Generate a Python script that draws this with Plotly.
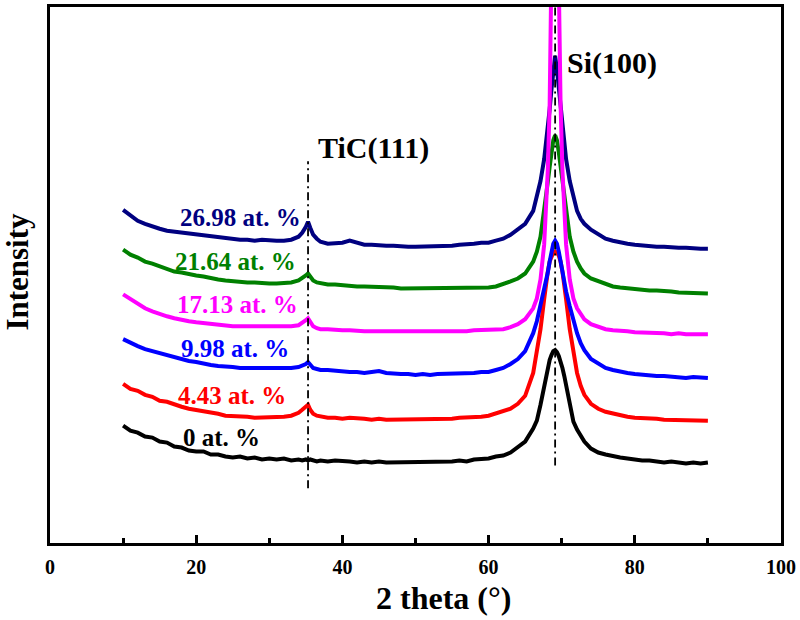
import plotly.graph_objects as go

# 2-theta grid (degrees)
two_theta = [10, 11, 12, 13, 14, 15, 16, 17, 18, 19, 20, 21, 22, 23, 24, 25, 26, 27, 28, 29,
             30, 31, 32, 33, 34, 34.5, 35, 35.3, 35.6, 36, 36.5, 37, 38, 39, 40, 41, 42, 43, 44, 45,
             46, 47, 48, 49, 50, 51, 52, 53, 54, 55, 56, 57, 58, 59, 60, 61, 62, 63, 64, 65,
             66.1, 66.6, 67.1, 67.6, 67.85, 68.1, 68.35, 68.6, 68.85, 69.1, 69.35, 69.6, 69.85, 70.1,
             70.35, 70.6, 71.1, 71.6, 72.1, 72.6, 73.1, 74, 75, 76, 77, 78, 79, 80, 81, 82,
             83, 84, 85, 86, 87, 88, 89, 90]

# intensities (arbitrary units, offset stacked)
i_0 = [118, 113, 111, 107, 106, 102, 101, 97, 96, 93,
       92, 92, 89, 89, 87, 86, 87, 85, 86, 84,
       85, 84, 85, 83, 84, 83, 84, 83, 84, 83,
       82, 83, 82, 83, 82, 82, 81, 82, 81, 82,
       81, 81, 82, 81, 81, 82, 81, 82, 81, 82,
       83, 82, 84, 84, 85, 87, 88, 91, 96, 102,
       115, 123, 139, 159, 169, 177, 184, 189, 193, 194,
       192, 188, 183, 176, 168, 158, 138, 122, 114, 107,
       102, 95, 91, 89, 87, 86, 85, 84, 83, 83,
       82, 81, 82, 81, 80, 81, 80, 81]
i_443 = [160, 155, 153, 149, 147, 143, 142, 139, 137, 135,
         134, 132, 131, 130, 128, 128, 127, 127, 126, 126,
         127, 126, 127, 128, 131, 134, 137, 139, 134, 130,
         128, 127, 126, 126, 125, 126, 125, 125, 124, 125,
         124, 124, 125, 124, 124, 125, 124, 125, 125, 125,
         126, 126, 126, 127, 128, 130, 132, 135, 140, 148,
         171, 191, 215, 245, 261, 273, 283, 289, 292, 293,
         292, 289, 283, 273, 261, 245, 215, 191, 171, 158,
         149, 140, 135, 132, 130, 128, 127, 126, 126, 125,
         125, 124, 124, 123, 124, 123, 123, 123]
i_998 = [205, 201, 198, 195, 193, 190, 188, 186, 185, 183,
         182, 180, 179, 178, 177, 177, 176, 176, 175, 176,
         175, 175, 176, 176, 177, 178, 180, 182, 179, 176,
         175, 174, 174, 173, 173, 172, 172, 171, 172, 173,
         171, 170, 170, 170, 169, 170, 169, 170, 170, 170,
         171, 171, 171, 172, 172, 174, 176, 180, 185, 193,
         211, 223, 238, 253, 262, 272, 283, 293, 301, 304,
         301, 293, 283, 272, 262, 253, 238, 223, 211, 201,
         194, 185, 180, 176, 174, 172, 171, 170, 169, 169,
         168, 168, 167, 167, 166, 167, 166, 166]
i_1713 = [250, 245, 241, 236, 233, 230, 228, 226, 224, 223,
          222, 221, 220, 219, 219, 218, 218, 218, 217, 218,
          217, 217, 218, 218, 219, 221, 224, 226, 222, 218,
          216, 215, 215, 214, 214, 214, 213, 213, 213, 213,
          212, 213, 212, 212, 212, 212, 212, 212, 213, 213,
          213, 213, 214, 214, 214, 214, 215, 217, 220, 225,
          236, 246, 265, 300, 330, 375, 440, 540, 690, 860,
          690, 540, 440, 375, 330, 300, 265, 246, 236, 230,
          225, 220, 217, 215, 214, 213, 213, 212, 212, 211,
          211, 211, 210, 211, 210, 210, 210, 210]
i_2164 = [295, 290, 287, 283, 281, 278, 276, 273, 272, 270,
          269, 268, 266, 265, 264, 263, 263, 262, 262, 261,
          261, 261, 261, 262, 264, 266, 269, 271, 268, 264,
          262, 261, 260, 260, 259, 259, 258, 258, 258, 257,
          257, 257, 256, 256, 256, 256, 256, 256, 256, 256,
          256, 257, 257, 257, 257, 258, 260, 263, 266, 271,
          283, 293, 308, 333, 348, 363, 378, 393, 405, 410,
          405, 393, 378, 363, 348, 333, 308, 293, 283, 276,
          271, 266, 263, 260, 258, 257, 256, 256, 255, 254,
          254, 253, 253, 252, 252, 252, 251, 251]
i_2698 = [335, 329, 324, 321, 318, 316, 314, 313, 312, 311,
          310, 309, 308, 307, 306, 306, 305, 305, 304, 305,
          304, 304, 304, 305, 308, 312, 318, 323, 317, 310,
          306, 303, 301, 301, 302, 304, 302, 300, 300, 299,
          299, 299, 298, 298, 298, 298, 298, 299, 299, 299,
          300, 300, 301, 302, 302, 304, 306, 310, 315, 321,
          334, 348, 364, 386, 401, 418, 436, 456, 476, 490,
          476, 456, 436, 418, 401, 386, 364, 348, 334, 326,
          321, 315, 310, 306, 304, 302, 301, 300, 299, 299,
          298, 298, 297, 297, 297, 296, 296, 296]

series_names = ["0 at. %", "4.43 at. %", "9.98 at. %", "17.13 at. %", "21.64 at. %", "26.98 at. %"]
series_values = [i_0, i_443, i_998, i_1713, i_2164, i_2698]
series_colors = ["#000000", "#ff0000", "#0000ff", "#ff00ff", "#008000", "#000080"]
label_x = [23.5, 24.9, 25.3, 25.7, 25.4, 26.1]
label_y = [106, 148, 196, 240, 283, 327]

# reference lines (position, bottom, top)
ref_pos = [35.3, 69.1]
ref_bottom = [55, 78]
ref_top = [384, 539]
peak_labels = ["TiC(111)", "Si(100)"]
peak_label_x = [44.3, 76.9]
peak_label_y = [397, 483]

FONT = "Liberation Serif"

fig = go.Figure()
order = [0, 1, 2, 4, 5, 3]
for k in order:
    fig.add_trace(go.Scatter(x=two_theta, y=series_values[k], mode="lines",
                             line=dict(color=series_colors[k], width=4),
                             name=series_names[k], showlegend=False))

for p, b, t in zip(ref_pos, ref_bottom, ref_top):
    fig.add_trace(go.Scatter(x=[p, p], y=[b, t], mode="lines",
                             line=dict(color="black", width=1.8, dash="8px,4px,2px,4px"),
                             showlegend=False))

for name, col, lx, ly in zip(series_names, series_colors, label_x, label_y):
    fig.add_annotation(x=lx, y=ly, text=name, showarrow=False, xanchor="center", yanchor="middle",
                       font=dict(family=FONT, size=25, color=col, weight="bold"))

for txt, lx, ly in zip(peak_labels, peak_label_x, peak_label_y):
    fig.add_annotation(x=lx, y=ly, text=txt, showarrow=False, xanchor="center", yanchor="middle",
                       font=dict(family=FONT, size=30, color="black", weight="bold"))

fig.add_annotation(xref="paper", yref="paper", x=-0.044, y=0.506, text="Intensity",
                   textangle=-90, showarrow=False, xanchor="center", yanchor="middle",
                   font=dict(family=FONT, size=31, color="black", weight="bold"))
fig.add_annotation(xref="paper", yref="paper", x=0.538, y=-0.102, text="2 theta (°)",
                   showarrow=False, xanchor="center", yanchor="middle",
                   font=dict(family=FONT, size=32, color="black", weight="bold"))

fig.update_layout(
    width=800, height=620,
    margin=dict(l=50, r=19, t=4, b=77),
    plot_bgcolor="white", paper_bgcolor="white",
    showlegend=False,
)
fig.update_xaxes(range=[0, 100], dtick=20, tick0=0, ticks="inside", ticklen=8, tickwidth=2.5,
                 tickcolor="black", showline=True, linewidth=2.5, linecolor="black", mirror=True,
                 showgrid=False, zeroline=False, ticklabelstandoff=4,
                 minor=dict(dtick=10, ticks="inside", ticklen=5, tickwidth=2.5, tickcolor="black"),
                 tickfont=dict(family=FONT, size=20, color="black", weight="bold"))
fig.update_yaxes(range=[0, 539], showticklabels=False, ticks="", showline=True, linewidth=2.5,
                 linecolor="black", mirror=True, showgrid=False, zeroline=False)

fig.write_html("out.html", config={"displayModeBar": False},
               post_script="document.body.style.margin='0px';")
